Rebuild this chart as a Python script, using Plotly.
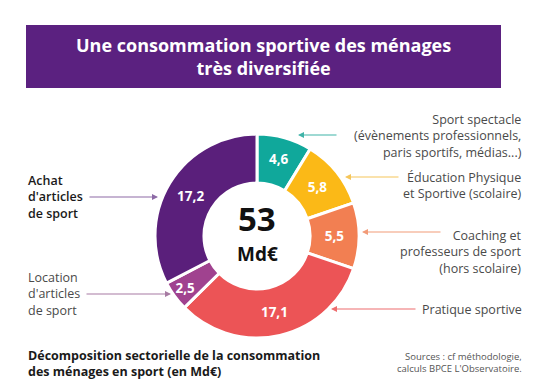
import plotly.graph_objects as go

categories = ["Sport spectacle", "Éducation Physique et Sportive", "Coaching et professeurs de sport",
              "Pratique sportive", "Location d'articles de sport", "Achat d'articles de sport"]
values = [4.6, 5.8, 5.5, 17.1, 2.5, 17.2]
value_labels = ["4,6", "5,8", "5,5", "17,1", "2,5", "17,2"]
colors = ["#10a89b", "#fbb917", "#f27f52", "#ec5456", "#a0428f", "#5a1f7b"]
total_label = "53"

W, H = 545, 385
def px(x):
    return x / W
def py(y):
    return 1 - y / H

FONT = "Open Sans"

fig = go.Figure()
fig.add_trace(go.Pie(
    labels=categories, values=values, text=value_labels,
    textinfo="text", textposition="inside", insidetextorientation="horizontal",
    sort=False, direction="clockwise", rotation=0, hole=0.52,
    marker=dict(colors=colors, line=dict(color="white", width=3)),
    textfont=dict(family=FONT, size=13.5, color="white", weight="bold"),
    domain=dict(x=[px(147), px(351)], y=[py(330), py(126)]),
    showlegend=False, hoverinfo="label+value",
))

shapes = [dict(type="rect", xref="paper", yref="paper", x0=px(18), x1=px(493), y0=py(80), y1=py(17),
               fillcolor="#5b2180", line=dict(width=0), layer="below")]

def T(x, y, text, font, xanchor="center", align="center"):
    return dict(x=px(x), y=py(y), xref="paper", yref="paper", showarrow=False, text=text,
                xanchor=xanchor, yanchor="middle", align=align, font=font, borderpad=0)

ann = []
ann.append(T(255, 48, "Une consommation sportive des ménages<br>très diversifiée",
             dict(family=FONT, size=18, color="white", weight="bold")))
# center
ann.append(T(249, 211, total_label, dict(family=FONT, size=33, color="#111111", weight="bold")))
ann.append(T(249, 246, "Md€", dict(family=FONT, size=19, color="#111111", weight="bold")))

# left labels
ann.append(T(19, 189, "Achat<br>d'articles<br>de sport",
             dict(family=FONT, size=12.5, color="#1a1a1a", weight=600), "left", "left"))
ann.append(T(19, 286, "Location<br>d'articles<br>de sport",
             dict(family=FONT, size=12.5, color="#4a4a4a"), "left", "left"))
# right labels
rfont = dict(family=FONT, size=12.5, color="#4a4a4a")
ann.append(T(515, 128, "Sport spectacle<br>(évènements professionnels,<br>paris sportifs, médias...)", rfont, "right", "right"))
ann.append(T(515, 178, "Éducation Physique<br>et Sportive (scolaire)", rfont, "right", "right"))
ann.append(T(515, 244, "Coaching et<br>professeurs de sport<br>(hors scolaire)", rfont, "right", "right"))
ann.append(T(515, 301, "Pratique sportive", rfont, "right", "right"))

# arrows: (head_x, head_y, tail_x, tail_y, color)
arrows = [
    (150, 189, 80, 189, "#8d6aa6"),
    (163, 286, 77, 286, "#a77ba3"),
    (290, 127, 330, 127, "#3fb3a8"),
    (337, 169, 392, 169, "#f6c65a"),
    (354, 224, 434, 224, "#f29b78"),
    (323, 301, 409, 301, "#ee6d6e"),
]
for hx, hy, tx, ty, c in arrows:
    ann.append(dict(x=px(hx), y=py(hy), xref="paper", yref="paper", ax=tx - hx, ay=ty - hy,
                    showarrow=True, arrowhead=2, arrowsize=1, arrowwidth=1.2, arrowcolor=c, text=""))

# bottom
ann.append(T(19, 355, "Décomposition sectorielle de la consommation<br>des ménages en sport (en Md€)",
             dict(family=FONT, size=12.5, color="#1a1a1a", weight="bold"), "left", "left"))
ann.append(T(515, 354, "Sources : cf méthodologie,<br>calculs BPCE L'Observatoire.",
             dict(family=FONT, size=9.5, color="#555555"), "right", "right"))

fig.update_layout(width=W, height=H, margin=dict(l=0, r=0, t=0, b=0),
                  paper_bgcolor="white", plot_bgcolor="white",
                  shapes=shapes, annotations=ann)
fig.write_html("out.html")
